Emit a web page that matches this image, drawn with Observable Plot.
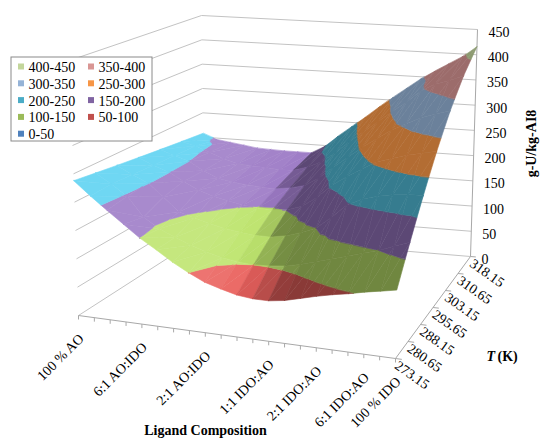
<!DOCTYPE html>
<html>
<head>
<meta charset="utf-8">
<script src="https://cdn.jsdelivr.net/npm/d3@7"></script>
<script src="https://cdn.jsdelivr.net/npm/@observablehq/plot@0.6"></script>
<style>
  body { margin: 0; background: #fff; }
  #chart { width: 550px; height: 445px; }
</style>
</head>
<body>
<div id="chart"></div>
<script>
// ---------------- DATA ----------------
// Ligand composition categories (21 categories, labels shown only on some)
const compositions = ["100 % AO", "", "", "", "6:1 AO:IDO", "", "", "", "2:1 AO:IDO", "", "", "",
  "1:1 IDO:AO", "", "", "2:1 IDO:AO", "", "", "6:1 IDO:AO", "", "100 % IDO"];
// Temperature series (K)
const temperatures = [273.15, 280.65, 288.15, 295.65, 303.15, 310.65, 318.15];
// Uptake (g-U/kg-AI8) per temperature, across the 21 compositions
const t273_15 = [238, 214, 192, 171, 150, 133, 115, 100, 87, 79, 72, 69, 69, 73, 80, 87, 93, 98, 104, 109, 114];
const t280_65 = [233, 216, 197, 163, 145, 133, 122, 113, 106, 102, 100, 101, 104, 110, 118, 126, 134, 142, 150, 160, 170];
const t288_15 = [228, 214, 201, 178, 154, 146, 138, 132, 128, 125, 125, 130, 139, 150, 172, 197, 210, 218, 223, 226, 227];
const t295_65 = [223, 211, 201, 186, 172, 163, 157, 152, 149, 148, 151, 160, 179, 204, 222, 239, 254, 263, 271, 277, 283];
const t303_15 = [218, 209, 200, 184, 172, 167, 164, 162, 161, 165, 172, 189, 212, 233, 254, 273, 291, 305, 318, 327, 335];
const t310_65 = [213, 206, 196, 185, 178, 175, 174, 172, 173, 181, 194, 214, 238, 259, 280, 302, 322, 346, 360, 369, 380];
const t318_15 = [208, 197, 193, 189, 185, 184, 183, 183, 183, 198, 221, 242, 263, 285, 306, 326, 346, 363, 379, 395, 416];
const uptake = [t273_15, t280_65, t288_15, t295_65, t303_15, t310_65, t318_15];
// Value axis ticks / band breaks
const valueTicks = [0, 50, 100, 150, 200, 250, 300, 350, 400, 450];
const bandLabels = ["0-50", "50-100", "100-150", "150-200", "200-250", "250-300", "300-350", "350-400", "400-450"];
const bandColors = ["#4F81BD", "#C0504D", "#9BBB59", "#8064A2", "#4BACC6", "#F79646", "#95B3D7", "#D99694", "#C3D69B"];

// ---------------- LAYOUT ----------------
const W = 550, H = 445;
const SERIF = "'Liberation Serif', 'Times New Roman', 'DejaVu Serif', serif";
// screen anchors of the 3D box (floor and top faces)
const frame = {
  floor: { f0: [78, 315], f1: [395, 358], b0: [204, 234], b1: [470, 256] },
  top:   { f0: [69, 60],  f1: [400, 88],  b0: [201, 15],  b1: [477, 29] }
};
const nu = compositions.length, nv = temperatures.length;
const uScale = d3.scaleLinear([0, nu - 1], [0, 1]);
const vScale = d3.scaleLinear([0, nv - 1], [0, 1]);
const wScale = d3.scaleLinear([0, d3.max(valueTicks)], [0, 1]);

const lerp = (a, b, t) => [a[0] + (b[0] - a[0]) * t, a[1] + (b[1] - a[1]) * t];
function P(u, v, z) {
  const w = wScale(z);
  const face = q => lerp(lerp(q.f0, q.f1, u), lerp(q.b0, q.b1, u), v);
  return lerp(face(frame.floor), face(frame.top), w);
}

// ---------------- SURFACE ----------------
const sub = (a, b) => [a[0] - b[0], a[1] - b[1], a[2] - b[2]];
const cross = (a, b) => [a[1] * b[2] - a[2] * b[1], a[2] * b[0] - a[0] * b[2], a[0] * b[1] - a[1] * b[0]];
const norm = a => { const l = Math.hypot(...a); return a.map(x => x / l); };
const dot = (a, b) => a[0] * b[0] + a[1] * b[1] + a[2] * b[2];
const smooth = (e0, e1, x) => { const t = Math.max(0, Math.min(1, (x - e0) / (e1 - e0))); return t * t * (3 - 2 * t); };
const LIGHT = norm([1, 0.3, 0.6]);

// one shade per cell (quad normal from its diagonals)
function shader(A, B, C, D) {
  const wp = p => [p.u, p.v * 0.62, wScale(p.z) * 0.8];
  let n = cross(sub(wp(C), wp(A)), sub(wp(D), wp(B)));
  if (n[2] < 0) n = n.map(x => -x);
  n = norm(n);
  const f = dot(n, LIGHT);
  const k = 0.72 + 0.5 * smooth(0.1, 0.45, f);
  const s = 0.12 * smooth(0.35, 0.6, f);
  return hex => {
    const c0 = d3.rgb(hex);
    const ch = x => Math.min(255, x * k);
    const r = ch(c0.r), g = ch(c0.g), bb = ch(c0.b);
    return d3.rgb(r + (255 - r) * s, g + (255 - g) * s, bb + (255 - bb) * s).formatHex();
  };
}
function clip(pts, f) {
  const out = [];
  for (let k = 0; k < pts.length; k++) {
    const a = pts[k], b = pts[(k + 1) % pts.length];
    const fa = f(a), fb = f(b);
    if (fa >= 0) out.push(a);
    if ((fa >= 0) !== (fb >= 0)) {
      const t = fa / (fa - fb);
      out.push({ u: a.u + (b.u - a.u) * t, v: a.v + (b.v - a.v) * t, z: a.z + (b.z - a.z) * t });
    }
  }
  return out;
}
const surface = [];
let pid = 0;
const node = (i, j) => ({ u: uScale(i), v: vScale(j), z: uptake[j][i] });
for (let j = nv - 2; j >= 0; j--) {
  for (let i = 0; i < nu - 1; i++) {
    const A = node(i, j), B = node(i + 1, j), C = node(i + 1, j + 1), D = node(i, j + 1);
    const shade = shader(A, B, C, D);
    for (const tri of [[D, A, C], [A, B, C]]) {
      for (let k = 0; k < bandColors.length; k++) {
        const lo = valueTicks[k], hi = valueTicks[k + 1];
        let poly = clip(tri, p => p.z - lo);
        poly = clip(poly, p => hi - p.z);
        if (poly.length < 3) continue;
        const color = shade(bandColors[k]);
        const id = pid++;
        for (const p of poly) { const [x, y] = P(p.u, p.v, p.z); surface.push({ id, x, y, color }); }
      }
    }
  }
}

// ---------------- FRAME / AXES ----------------
const seg = (a, b) => ({ x1: a[0], y1: a[1], x2: b[0], y2: b[1] });
const backGrid = valueTicks.map(z => seg(P(0, 1, z), P(1, 1, z)));
const leftGrid = valueTicks.map(z => seg(P(0, 0, z), P(0, 1, z)));
const axisLines = [
  seg(P(0, 0, 0), P(1, 0, 0)),
  seg(P(1, 0, 0), P(1, 1, 0)),
  seg(P(1, 1, 0), P(1, 1, d3.max(valueTicks)))
];
const compTicks = compositions.map((c, i) => { const a = P(uScale(i), 0, 0); return seg(a, [a[0], a[1] + 4]); });
const tempTicks = temperatures.map((t, j) => seg(P(1, vScale(j), 0), P(1.02, vScale(j), 0)));

const compLabels = compositions.map((c, i) => ({ c, p: P(uScale(i), 0, 0) }))
  .filter(d => d.c !== "").map(d => ({ text: d.c, x: d.p[0] - 1, y: d.p[1] + 17 }));
const tempLabels = temperatures.map((t, j) => { const p = P(1, vScale(j), 0); return { text: t.toFixed(2), x: p[0] + 4, y: p[1] + 1 }; });
const valueLabels = valueTicks.map(z => { const p = P(1, 1, z); return { text: String(z), x: p[0] + 11, y: p[1] + 3 }; });

// ---------------- LEGEND ----------------
const legendBox = { x1: 11, x2: 152, y1: 57, y2: 141 };
const legendOrder = [8, 7, 6, 5, 4, 3, 2, 1, 0];
const legendItems = legendOrder.map((b, k) => {
  const col = k % 2, row = Math.floor(k / 2);
  const cx = legendBox.x1 + 10 + col * 70, cy = legendBox.y1 + 10 + row * 16.8;
  return { label: bandLabels[b], color: bandColors[b], sx1: cx - 3, sx2: cx + 3, sy1: cy - 3.5, sy2: cy + 2.5, tx: cx + 7, ty: cy };
});

const txt = { fontFamily: SERIF, fontSize: 14, fill: "black" };

const chart = Plot.plot({
  width: W, height: H, margin: 0,
  x: { domain: [0, W], range: [0, W], axis: null },
  y: { domain: [0, H], range: [0, H], axis: null },
  color: { type: "identity" },
  style: { fontFamily: SERIF, background: "white", overflow: "visible" },
  marks: [
    Plot.link(backGrid, { x1: "x1", y1: "y1", x2: "x2", y2: "y2", stroke: "#c3c3c3", strokeWidth: 1 }),
    Plot.link(leftGrid, { x1: "x1", y1: "y1", x2: "x2", y2: "y2", stroke: "#c3c3c3", strokeWidth: 1 }),
    Plot.link(axisLines, { x1: "x1", y1: "y1", x2: "x2", y2: "y2", stroke: "#a8a8a8", strokeWidth: 1 }),
    Plot.link(compTicks, { x1: "x1", y1: "y1", x2: "x2", y2: "y2", stroke: "#a8a8a8", strokeWidth: 1 }),
    Plot.link(tempTicks, { x1: "x1", y1: "y1", x2: "x2", y2: "y2", stroke: "#a8a8a8", strokeWidth: 1 }),
    Plot.line(surface, { x: "x", y: "y", z: "id", fill: "color", stroke: "color", strokeWidth: 0.6, strokeLinejoin: "round", curve: "linear-closed" }),
    Plot.text(compLabels, { x: "x", y: "y", text: "text", rotate: -45, textAnchor: "end", lineAnchor: "top", ...txt }),
    Plot.text(tempLabels, { x: "x", y: "y", text: "text", rotate: 35, textAnchor: "start", lineAnchor: "top", ...txt }),
    Plot.text(valueLabels, { x: "x", y: "y", text: "text", textAnchor: "start", lineAnchor: "middle", ...txt }),
    Plot.text([{ text: "g-U/kg-AI8", x: 531, y: 143 }], { x: "x", y: "y", text: "text", rotate: -90, fontWeight: "bold", ...txt }),
    Plot.text([{ text: "T", x: 486, y: 356 }], { x: "x", y: "y", text: "text", textAnchor: "start", fontWeight: "bold", fontStyle: "italic", ...txt }),
    Plot.text([{ text: "(K)", x: 497, y: 356 }], { x: "x", y: "y", text: "text", textAnchor: "start", fontWeight: "bold", ...txt }),
    Plot.text([{ text: "Ligand Composition", x: 205, y: 430 }], { x: "x", y: "y", text: "text", fontWeight: "bold", ...txt }),
    Plot.rect([legendBox], { x1: "x1", x2: "x2", y1: "y1", y2: "y2", fill: "white", stroke: "#8a8a8a", strokeWidth: 1 }),
    Plot.rect(legendItems, { x1: "sx1", x2: "sx2", y1: "sy1", y2: "sy2", fill: "color" }),
    Plot.text(legendItems, { x: "tx", y: "ty", text: "label", textAnchor: "start", lineAnchor: "middle", ...txt })
  ]
});
document.getElementById("chart").appendChild(chart);
</script>
</body>
</html>
